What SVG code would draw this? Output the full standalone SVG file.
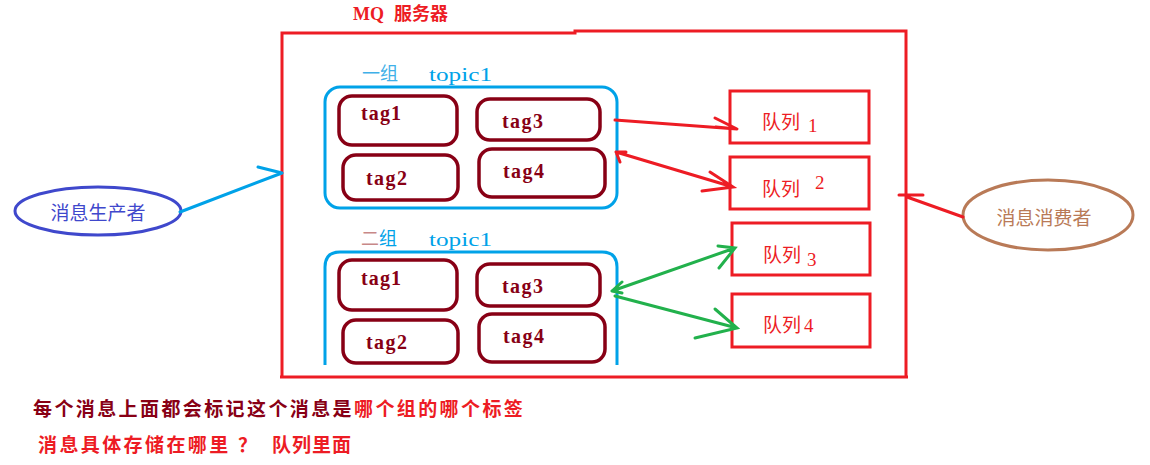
<svg xmlns="http://www.w3.org/2000/svg" width="1150" height="465" viewBox="0 0 1150 465">
<style>
.cjk{font-family:"Noto Sans CJK SC","Noto Sans CJK JP",sans-serif;}
.ser{font-family:"Liberation Serif","DejaVu Serif",serif;}
.grp{fill:none;stroke:#00a2e8;stroke-width:3;}
.tag rect{fill:none;stroke:#880015;stroke-width:3.5;}
.tag text{fill:#880015;font-family:"Liberation Serif",serif;font-size:20px;font-weight:bold;}
.q rect{fill:none;stroke:#ed1c24;stroke-width:3;}
.q text{fill:#ed1c24;font-size:19px;}
.red{fill:none;stroke:#ed1c24;stroke-width:3;stroke-linecap:round;}
.grn{fill:none;stroke:#22b14c;stroke-width:3;stroke-linecap:round;}
.blu{fill:none;stroke:#00a2e8;stroke-width:3;stroke-linecap:round;}
</style>
<rect width="1150" height="465" fill="#ffffff"/>

<g id="mq-server">
<path d="M282,377 V33 H575 V31 H906 V377 M280,377 H908" fill="none" stroke="#ed1c24" stroke-width="3"/>
<text x="353" y="20" fill="#ed1c24" font-size="18" font-weight="bold"><tspan class="ser" font-family="Liberation Mono,monospace">MQ</tspan><tspan class="cjk" dx="10">服务器</tspan></text>
</g>

<g id="group1">
<rect class="grp" x="325" y="87" width="292" height="121" rx="15"/>
<text x="362" y="80" class="cjk" font-size="18" fill="#3fb0e8">一组</text>
<text x="429" y="81" class="ser" font-size="18" fill="#00a2e8" textLength="63" lengthAdjust="spacingAndGlyphs">topic1</text>
</g>
<g id="g1-tag1" class="tag"><rect x="339" y="96" width="118" height="49" rx="13"/><text x="361" y="120" textLength="40">tag1</text></g>
<g id="g1-tag3" class="tag"><rect x="477" y="99" width="123" height="41" rx="13"/><text x="502" y="128" textLength="41">tag3</text></g>
<g id="g1-tag2" class="tag"><rect x="343" y="155" width="115" height="45" rx="13"/><text x="366" y="185" textLength="41">tag2</text></g>
<g id="g1-tag4" class="tag"><rect x="479" y="149" width="126" height="48" rx="13"/><text x="503" y="178" textLength="41">tag4</text></g>

<g id="group2">
<path class="grp" d="M325,365 V267 Q325,252 340,252 H602 Q617,252 617,267 V365"/>
<text x="361" y="245" class="cjk" font-size="18"><tspan fill="#c88888">二</tspan><tspan fill="#00a2e8">组</tspan></text>
<text x="429" y="246" class="ser" font-size="18" fill="#00a2e8" textLength="63" lengthAdjust="spacingAndGlyphs">topic1</text>
</g>
<g id="g2-tag1" class="tag"><rect x="339" y="260" width="118" height="50" rx="13"/><text x="361" y="285" textLength="40">tag1</text></g>
<g id="g2-tag3" class="tag"><rect x="477" y="264" width="123" height="42" rx="13"/><text x="502" y="293" textLength="41">tag3</text></g>
<g id="g2-tag2" class="tag"><rect x="343" y="320" width="115" height="43" rx="13"/><text x="366" y="349" textLength="41">tag2</text></g>
<g id="g2-tag4" class="tag"><rect x="479" y="314" width="126" height="48" rx="13"/><text x="503" y="343" textLength="41">tag4</text></g>

<g id="queue1" class="q"><rect x="730" y="91" width="139" height="52"/><text x="762" y="129" class="cjk">队列<tspan class="ser" x="808" y="132">1</tspan></text></g>
<g id="queue2" class="q"><rect x="730" y="157" width="139" height="52"/><text x="762" y="196" class="cjk">队列<tspan class="ser" x="815" y="189">2</tspan></text></g>
<g id="queue3" class="q"><rect x="732" y="223" width="138" height="52"/><text x="763" y="262" class="cjk">队列<tspan class="ser" x="807" y="266">3</tspan></text></g>
<g id="queue4" class="q"><rect x="732" y="294" width="138" height="53"/><text x="763" y="332" class="cjk">队列<tspan class="ser" x="804" y="332">4</tspan></text></g>

<g id="producer">
<ellipse cx="98" cy="211" rx="83" ry="24" fill="none" stroke="#3f48cc" stroke-width="3"/>
<text x="98" y="220" text-anchor="middle" class="cjk" font-size="19" fill="#3f48cc">消息生产者</text>
</g>
<g id="consumer">
<ellipse cx="1048" cy="215" rx="85" ry="35" fill="none" stroke="#b97a57" stroke-width="3"/>
<text x="1044" y="225" text-anchor="middle" class="cjk" font-size="19" fill="#b97a57">消息消费者</text>
</g>

<g id="connectors">
<path class="blu" d="M180,212 L282,173 M258,167 L282,173"/>
<path class="red" d="M963,217 L907,197 M899,195 L923,195"/>
<path class="red" d="M615,120 L737,129 M715,118 L737,129 L716,127"/>
<path class="red" d="M616,152 L733,187 M710,172 L733,187 L702,191 M616,152 L620,162 M616,152 L626,152"/>
<path class="grn" d="M612,291 L735,248 M718,246 L735,248 L719,268 M612,291 L622,282 M612,291 L622,293"/>
<path class="grn" d="M615,296 L737,328 M715,309 L737,328 L695,338"/>
</g>

<g id="notes">
<text x="33" y="416" class="cjk" font-size="19" font-weight="bold" letter-spacing="2.4" fill="#880015">每个消息上面都会标记这个消息是<tspan fill="#ed1c24">哪个组的哪个标签</tspan></text>
<text x="38" y="452" class="cjk" font-size="19" font-weight="bold" letter-spacing="2.4" fill="#ed1c24">消息具体存储在哪里<tspan x="238">？</tspan><tspan x="272" letter-spacing="1">队列里面</tspan></text>
</g>
</svg>
